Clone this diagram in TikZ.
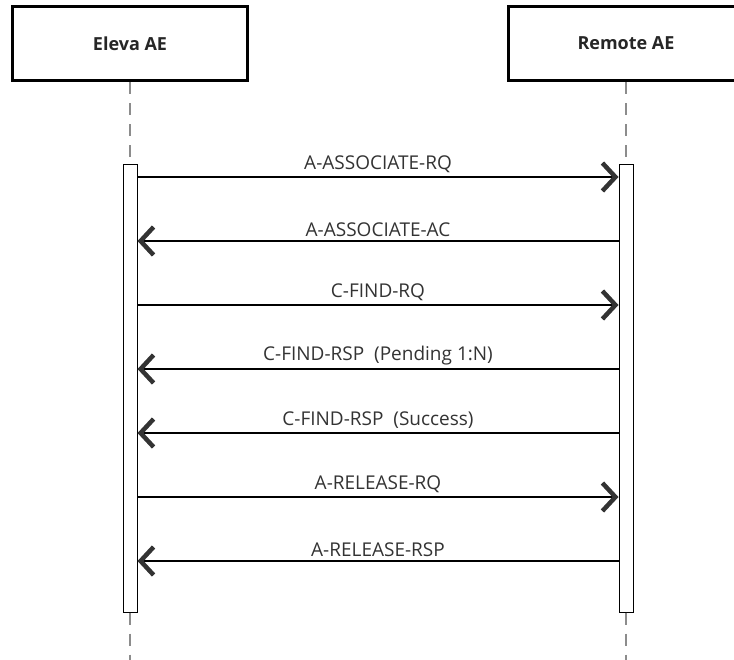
\documentclass[tikz,border=0pt]{standalone}
\usepackage{fontspec}
\setmainfont{Open Sans}
\usetikzlibrary{arrows.meta}
\begin{document}
\begin{tikzpicture}[x=1pt,y=-1pt,
  actor/.style={draw,line width=3pt,fill=white,minimum width=235pt,minimum height=74pt,
    inner sep=0pt,font=\fontsize{18}{21}\selectfont\bfseries,text=black!85},
  bar/.style={draw,line width=1pt,fill=white,minimum width=14pt,minimum height=448pt,inner sep=0pt},
  life/.style={draw=black!45,line width=2pt,dash pattern=on 12pt off 9pt},
  msg/.style={line width=2.6pt,-{Straight Barb[length=13pt,width=28pt,line width=4.5pt,color=black!80]}},
  msgtext/.style={midway,above=3pt,inner sep=0pt,font=\fontsize{19}{22}\selectfont,text=black!80}]

  \clip (0,0) rectangle (734,659);

  % actors and activation bars
  \node[actor] (eleva) at (130,43.5) {Eleva AE};
  \node[actor] (remote) at (626,43.5) {Remote AE};
  \node[bar] (lbar) at (130,388) {};
  \node[bar] (rbar) at (626,388) {};

  % lifelines
  \coordinate (bottom) at (0,670);
  \draw[life] (eleva.south) -- (lbar.north);
  \draw[life] (remote.south) -- (rbar.north);
  \draw[life] (lbar.south) -- (lbar.south |- bottom);
  \draw[life] (rbar.south) -- (rbar.south |- bottom);

  % message rows
  \coordinate (m1) at (0,177);
  \coordinate (m2) at (0,241);
  \coordinate (m3) at (0,305);
  \coordinate (m4) at (0,369);
  \coordinate (m5) at (0,433);
  \coordinate (m6) at (0,497);
  \coordinate (m7) at (0,561);

  \draw[msg] (lbar.east |- m1) -- node[msgtext]{A-ASSOCIATE-RQ} (rbar.west |- m1);
  \draw[msg] (rbar.west |- m2) -- node[msgtext]{A-ASSOCIATE-AC} (lbar.east |- m2);
  \draw[msg] (lbar.east |- m3) -- node[msgtext]{C-FIND-RQ} (rbar.west |- m3);
  \draw[msg] (rbar.west |- m4) -- node[msgtext]{C-FIND-RSP\ \ (Pending 1:N)} (lbar.east |- m4);
  \draw[msg] (rbar.west |- m5) -- node[msgtext]{C-FIND-RSP\ \ (Success)} (lbar.east |- m5);
  \draw[msg] (lbar.east |- m6) -- node[msgtext]{A-RELEASE-RQ} (rbar.west |- m6);
  \draw[msg] (rbar.west |- m7) -- node[msgtext]{A-RELEASE-RSP} (lbar.east |- m7);

\end{tikzpicture}
\end{document}
